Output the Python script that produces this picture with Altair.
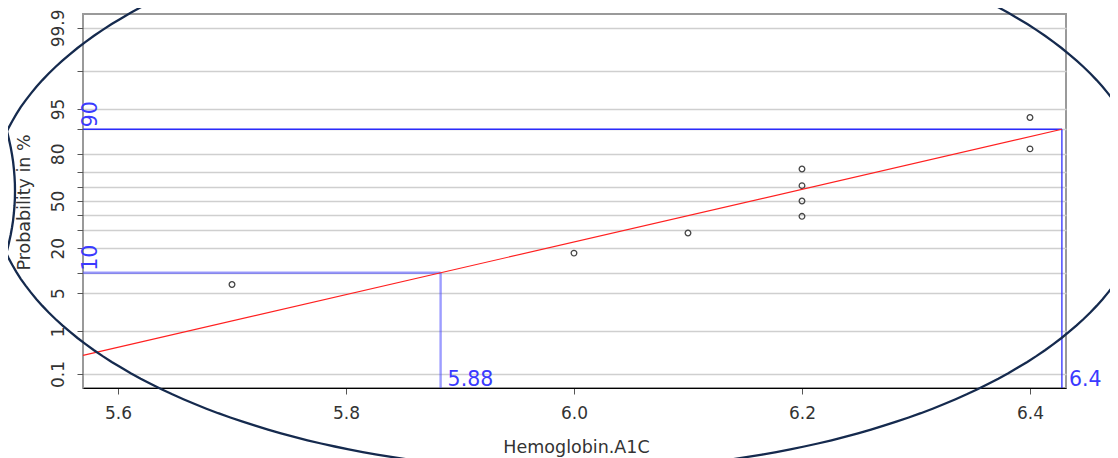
import math
from statistics import NormalDist

import altair as alt
import pandas as pd

nd = NormalDist()

# ---------------- data ----------------
hba1c = [5.7, 6.0, 6.1, 6.2, 6.2, 6.2, 6.2, 6.4, 6.4]
prob_pct = [6.8, 17.6, 28.4, 39.2, 50.0, 60.8, 71.6, 82.4, 93.2]

grid_probs = [0.1, 1, 5, 10, 20, 30, 40, 50, 60, 70, 80, 90, 95, 99, 99.9]
labeled_probs = [0.1, 1, 5, 20, 50, 80, 95, 99.9]
x_ticks = [5.6, 5.8, 6.0, 6.2, 6.4]

q_probs = [10, 90]
q_values = [5.883, 6.428]
q_labels = ["5.88", "6.4"]

x_min, x_max = 5.5693, 6.4316
z_lim = 3.339

# ---------------- style ----------------
W, H = 983, 374
FONT = "DejaVu Sans"
TXT = "#333333"
BLUE_TXT = "#3a3aff"
NAVY = "#152a4e"


def z(p):
    return round(nd.inv_cdf(p / 100.0), 6)


grid_z = [z(p) for p in grid_probs]
label_expr = " : ".join(
    f"abs(datum.value - ({z(p)})) < 0.0001 ? '{p:g}'" for p in labeled_probs
) + " : ''"

pts = pd.DataFrame({"x": hba1c, "z": [z(p) for p in prob_pct]})

z10, z90 = z(q_probs[0]), z(q_probs[1])
slope = (z90 - z10) / (q_values[1] - q_values[0])
fit = pd.DataFrame({
    "x": [x_min, q_values[1]],
    "z": [z10 + (x_min - q_values[0]) * slope, z90],
})

rules = []
for p, v in zip(q_probs, q_values):
    rules.append({"lvl": str(p), "x": x_min, "x2": v, "z": z(p), "z2": z(p)})
    rules.append({"lvl": str(p), "x": v, "x2": v, "z": z(p), "z2": -z_lim})
rules = pd.DataFrame(rules)

prob_txt = pd.DataFrame({"x": [x_min] * 2, "z": [z10, z90], "t": [str(p) for p in q_probs]})
val_txt = pd.DataFrame({"x": q_values, "z": [-z_lim] * 2, "t": q_labels})

xs = alt.Scale(domain=[x_min, x_max], nice=False, zero=False)
ys = alt.Scale(domain=[-z_lim, z_lim], nice=False, zero=False)

x_axis = alt.Axis(
    values=x_ticks, format=".1f", grid=False,
    labelFontSize=17, labelColor=TXT, labelPadding=11, labelFont=FONT,
    tickColor="#555555", tickSize=6, tickWidth=1,
    domainColor="#000000", domainWidth=1.2,
    title="Hemoglobin.A1C", titleFontSize=17.5, titleFontWeight="normal",
    titleColor=TXT, titleFont=FONT, titleX=493, titleY=64,
    titleBaseline="alphabetic", titleAlign="center",
)
y_axis = alt.Axis(
    values=grid_z, labelExpr=label_expr, grid=True,
    gridColor="#cfcfcf", gridWidth=1.6, domain=False,
    tickColor="#555555", tickSize=6, tickWidth=1,
    labelAngle=270, labelAlign="center", labelBaseline="alphabetic",
    labelPadding=14, labelFontSize=17, labelColor=TXT, labelFont=FONT,
    title="Probability in %", titleAngle=270, titleFontSize=17.5,
    titleFontWeight="normal", titleColor=TXT, titleFont=FONT,
    titleX=-54, titleY=188, titleAlign="center", titleBaseline="alphabetic",
)

X = alt.X("x:Q", scale=xs, axis=x_axis)
Y = alt.Y("z:Q", scale=ys, axis=y_axis)

points = alt.Chart(pts).mark_point(
    shape="circle", filled=False, size=32, stroke="#444444",
    strokeWidth=1.3, opacity=1,
).encode(x=X, y=Y)

fit_line = alt.Chart(fit).mark_line(
    color="#ff2020", strokeWidth=1.2
).encode(x=X, y=Y)

rule_layer = alt.Chart(rules).mark_rule().encode(
    x=X, x2="x2:Q", y=Y, y2="z2:Q",
    color=alt.Color("lvl:N", scale=alt.Scale(domain=["10", "90"], range=["#4d4dff", "#2222ff"]), legend=None),
    strokeWidth=alt.StrokeWidth("lvl:N", scale=alt.Scale(domain=["10", "90"], range=[2.4, 1.3]), legend=None),
    opacity=alt.Opacity("lvl:N", scale=alt.Scale(domain=["10", "90"], range=[0.55, 0.95]), legend=None),
)

prob_labels = alt.Chart(prob_txt).mark_text(
    angle=270, align="left", baseline="alphabetic", dx=2, dy=14,
    fontSize=20.5, color=BLUE_TXT, font=FONT,
).encode(x=X, y=Y, text="t:N")

val_labels = alt.Chart(val_txt).mark_text(
    align="left", baseline="alphabetic", dx=7, dy=-2,
    fontSize=20.5, color=BLUE_TXT, font=FONT,
).encode(x=X, y=Y, text="t:N")


def ellipse_path(a, b, n=240):
    pts_ = []
    for i in range(n):
        t = 2 * math.pi * i / n
        pts_.append(f"{a * math.cos(t):.1f},{b * math.sin(t):.1f}")
    return "M" + " L".join(pts_) + " Z"


ell_df = pd.DataFrame({"k": [0]})
big_ellipse = alt.Chart(ell_df).mark_point(
    shape=ellipse_path(577, 277.5), size=4, filled=False,
    stroke=NAVY, strokeWidth=2.3, opacity=1,
).encode(x=alt.value(486.5), y=alt.value(179))

side_ellipse = alt.Chart(ell_df).mark_point(
    shape=ellipse_path(350, 280), size=4, filled=False,
    stroke=NAVY, strokeWidth=2.3, opacity=1,
).encode(x=alt.value(-418), y=alt.value(177))

chart = alt.layer(
    points, rule_layer, fit_line, prob_labels, val_labels, big_ellipse, side_ellipse
).properties(
    width=W, height=H,
    autosize=alt.AutoSizeParams(type="none"),
    padding={"left": 75, "top": 6, "right": 44, "bottom": 72},
).configure(font=FONT).configure_view(stroke="#9a9a9a", strokeWidth=2)

chart.save("out.html", embed_options={"renderer": "svg", "actions": False})
